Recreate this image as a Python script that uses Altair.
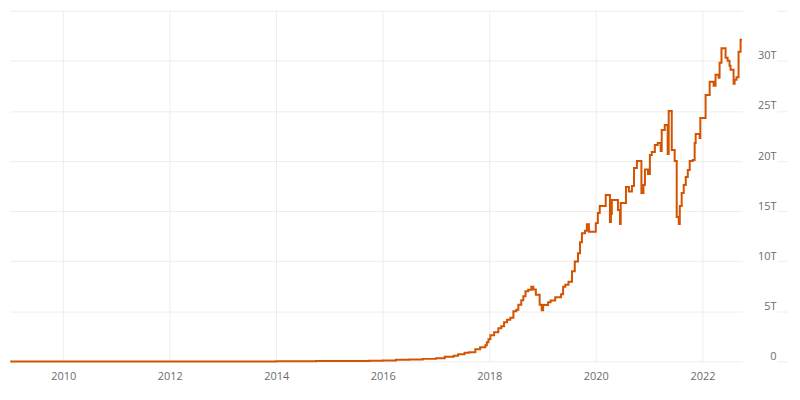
import altair as alt
import pandas as pd

# Difficulty adjustment points (start date of each level), values in T
dates = [
    "2009-01-03", "2011-01-01", "2012-01-01", "2013-01-01", "2013-07-01",
    "2014-01-01", "2014-04-01", "2014-07-01", "2014-10-01", "2015-01-01",
    "2015-04-01", "2015-07-01", "2015-10-01", "2016-01-01", "2016-04-01",
    "2016-07-01", "2016-10-01", "2017-01-01", "2017-03-01", "2017-05-01",
    "2017-06-01", "2017-07-15", "2017-08-15", "2017-09-27", "2017-10-30",
    "2017-12-05", "2017-12-15", "2017-12-26", "2018-01-08", "2018-02-03",
    "2018-03-04", "2018-03-24", "2018-04-12", "2018-05-02", "2018-05-25",
    "2018-06-15", "2018-07-05", "2018-07-19", "2018-08-08", "2018-08-22",
    "2018-09-06", "2018-09-25", "2018-10-16", "2018-10-30", "2018-11-16",
    "2018-12-12", "2018-12-26", "2019-01-05", "2019-02-08", "2019-02-25",
    "2019-03-29", "2019-05-08", "2019-05-22", "2019-06-06", "2019-06-28",
    "2019-07-22", "2019-08-10", "2019-09-01", "2019-09-15", "2019-09-28",
    "2019-10-19", "2019-11-01", "2019-11-15", "2020-01-01", "2020-01-15",
    "2020-01-28", "2020-03-09", "2020-04-07", "2020-04-14", "2020-04-20",
    "2020-06-01", "2020-06-15", "2020-06-20", "2020-07-26", "2020-08-15",
    "2020-09-05", "2020-09-19", "2020-10-09", "2020-11-09", "2020-11-23",
    "2020-12-03", "2020-12-24", "2021-01-06", "2021-01-19", "2021-02-09",
    "2021-03-01", "2021-03-21", "2021-03-28", "2021-04-18", "2021-05-08",
    "2021-05-15", "2021-06-05", "2021-06-25", "2021-07-09", "2021-07-23",
    "2021-07-30", "2021-08-12", "2021-08-26", "2021-09-09", "2021-09-23",
    "2021-10-06", "2021-10-27", "2021-11-09", "2021-11-16", "2021-12-13",
    "2021-12-18", "2022-01-23", "2022-02-20", "2022-03-19", "2022-04-01",
    "2022-04-22", "2022-04-29", "2022-05-12", "2022-06-09", "2022-06-23",
    "2022-07-06", "2022-07-13", "2022-08-03", "2022-08-10", "2022-08-23",
    "2022-09-06", "2022-09-20", "2022-09-30",
]
difficulty_t = [
    0.0, 0.0000015, 0.0000012, 0.0000034, 0.000026,
    0.0014, 0.005, 0.017, 0.035, 0.040,
    0.047, 0.049, 0.060, 0.100, 0.170,
    0.200, 0.250, 0.320, 0.460, 0.560,
    0.710, 0.860, 0.920, 1.20, 1.40,
    1.60, 1.90, 2.20, 2.60, 2.90,
    3.30, 3.50, 3.90, 4.15, 4.35,
    5.00, 5.15, 5.65, 6.10, 6.50,
    7.00, 7.15, 7.45, 7.18, 6.65,
    5.65, 5.10, 5.62, 5.90, 6.07,
    6.40, 6.70, 7.45, 7.65, 7.95,
    9.00, 9.98, 10.8, 11.9, 12.8,
    13.05, 13.7, 12.95, 13.8, 14.8,
    15.5, 16.6, 13.9, 14.7, 16.1,
    15.1, 13.7, 15.8, 17.4, 16.95,
    17.5, 19.3, 20.0, 16.8, 17.6,
    19.15, 18.7, 20.6, 20.9, 21.6,
    21.8, 21.0, 23.1, 23.6, 20.7,
    25.0, 21.1, 20.0, 14.4, 13.7,
    15.5, 16.8, 17.6, 18.4, 19.1,
    20.0, 20.1, 21.8, 22.7, 22.3,
    24.3, 26.6, 27.9, 27.5, 28.6,
    28.3, 29.8, 31.25, 30.3, 30.0,
    29.5, 29.1, 27.7, 28.1, 28.35,
    30.9, 32.1, 32.1,
]

x_tick_years = [2010, 2012, 2014, 2016, 2018, 2020, 2022]
y_tick_values = [0, 5, 10, 15, 20, 25, 30, 35]

df = pd.DataFrame({"date": dates, "difficulty": difficulty_t})

label_grey = "#6b6b6b"
grid_grey = "#ededed"

chart = (
    alt.Chart(df)
    .mark_line(interpolate="step-after", color="#d35400", strokeWidth=2)
    .encode(
        x=alt.X(
            "date:T",
            scale=alt.Scale(
                domain=[
                    alt.DateTime(year=2009, month=1, date=1),
                    alt.DateTime(year=2022, month=10, date=1),
                ]
            ),
            axis=alt.Axis(
                values=[alt.DateTime(year=y, month=1, date=1) for y in x_tick_years],
                format="%Y",
                title=None,
                domain=False,
                ticks=False,
                tickSize=0,
                labelPadding=9,
                grid=True,
                gridColor=grid_grey,
                labelColor=label_grey,
                labelFont="Open Sans",
                labelFontSize=11,
                labelFlush=False,
            ),
        ),
        y=alt.Y(
            "difficulty:Q",
            scale=alt.Scale(domain=[0, 35], nice=False),
            axis=alt.Axis(
                orient="right",
                values=y_tick_values,
                offset=35,
                title=None,
                domain=False,
                ticks=True,
                tickSize=10,
                tickColor=grid_grey,
                labelPadding=-11,
                labelAlign="right",
                labelBaseline="bottom",
                labelExpr="datum.value == 0 ? '0' : (datum.value >= 35 ? '' : datum.value + 'T')",
                labelFlush=False,
                grid=True,
                gridColor=grid_grey,
                labelColor=label_grey,
                labelFont="Open Sans",
                labelFontSize=11,
            ),
        ),
    )
    .properties(
        width=735,
        height=352,
        autosize="none",
        padding={"left": 2, "top": 2, "right": 50, "bottom": 30},
    )
    .configure(background="white", view={"stroke": "transparent", "strokeWidth": 0})
)

chart.save("out.html", embed_options={"renderer": "svg", "actions": False})
